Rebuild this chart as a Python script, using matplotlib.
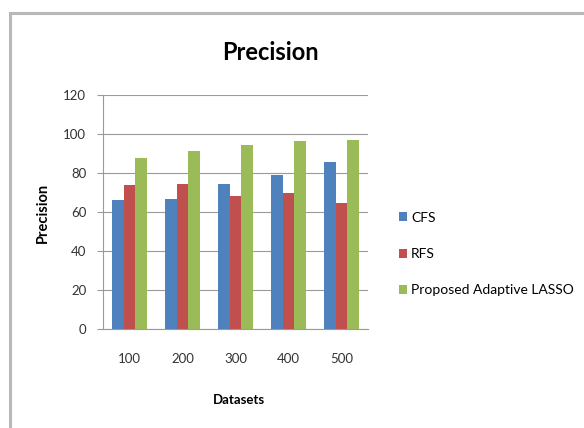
import matplotlib
matplotlib.use("Agg")
import matplotlib.pyplot as plt
from matplotlib.patches import Rectangle
import numpy as np

categories = ["100", "200", "300", "400", "500"]
series_names = ["CFS", "RFS", "Proposed Adaptive LASSO"]
cfs = [66, 66.7, 74.5, 79, 85.8]
rfs = [73.7, 74.5, 68, 69.7, 64.6]
lasso = [87.7, 91.5, 94.4, 96.2, 96.8]
yticks = [0, 20, 40, 60, 80, 100, 120]
colors = ["#4F81BD", "#C0504D", "#9BBB59"]

plt.rcParams['font.family'] = ['Lato', 'DejaVu Sans']

W, H = 584, 428
fig = plt.figure(figsize=(W / 100, H / 100), dpi=100)

# outer chart border
fig.patches.append(Rectangle((10 / W, -0.05), 1.1, 1 - 13 / H + 0.05, transform=fig.transFigure,
                             fill=False, edgecolor="#B8B8B8", linewidth=2.2, zorder=0))

left, right, top, bottom = 103, 368, 95, 329
ax = fig.add_axes([left / W, 1 - bottom / H, (right - left) / W, (bottom - top) / H])

x = np.arange(len(categories))
bw = 0.225
for i, (vals, name) in enumerate(zip([cfs, rfs, lasso], series_names)):
    ax.bar(x + (i - 1) * bw, vals, bw, color=colors[i], label=name, zorder=3)

ax.set_ylim(0, 120)
ax.set_xlim(-0.5, len(categories) - 0.5)
ax.set_yticks(yticks)
ax.set_yticklabels([str(t) for t in yticks], fontsize=9.5, color="#333333")
ax.set_xticks(x)
ax.set_xticklabels(categories, fontsize=9.5, color="#333333")
ax.yaxis.grid(True, color="#9A9A9A", linewidth=0.8, zorder=0)
ax.set_axisbelow(True)
for s in ["top", "right"]:
    ax.spines[s].set_visible(False)
ax.spines["left"].set_color("#9A9A9A")
ax.spines["bottom"].set_color("#9A9A9A")
ax.tick_params(axis="y", length=4, color="#9A9A9A", pad=8)
ax.tick_params(axis="x", length=0, pad=17)

fig.text(270 / W, 1 - 52 / H, "Precision", ha="center", va="center", fontsize=17, fontweight="bold")
fig.text(43 / W, 1 - 213 / H, "Precision", ha="center", va="center", rotation=90, fontsize=10.5, fontweight="bold")
fig.text(239 / W, 1 - 400 / H, "Datasets", ha="center", va="center", fontsize=9.5, fontweight="bold")

handles, labels = ax.get_legend_handles_labels()
leg = fig.legend(handles, labels, loc="center left", bbox_to_anchor=(386 / W, 1 - 254 / H),
                 frameon=False, fontsize=10, handlelength=0.6, handleheight=0.6,
                 handletextpad=0.3, labelspacing=1.75)

fig.savefig("out.png", dpi=100)
